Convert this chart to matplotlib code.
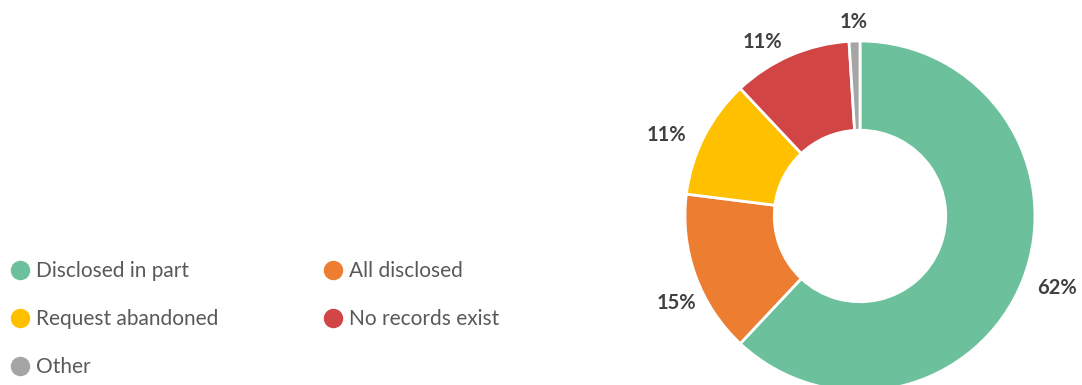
import numpy as np
import matplotlib.pyplot as plt
from matplotlib.lines import Line2D

# Данные
categories = ["Disclosed in part", "All disclosed", "Request abandoned", "No records exist", "Other"]
values = [62, 15, 11, 11, 1]
colors = ["#6cc19c", "#ed7d31", "#ffc000", "#d24545", "#a5a5a5"]

# Положение подписей: расстояние от центра (в радиусах) и сдвиг угла (градусы)
label_dist = [1.2, 1.16, 1.2, 1.14, 1.11]
label_shift = [1.6, 5.6, 4.3, 6, 0]

plt.rcParams['font.family'] = ['Lato', 'DejaVu Sans']

W, H = 1082, 385
fig = plt.figure(figsize=(W / 100, H / 100), dpi=100)

# Ось для кольцевой диаграммы: центр (860, 216) px, радиус 175 px
cx, cy, R, half = 860, 216, 175, 260
ax = fig.add_axes([(cx - half) / W, (H - cy - half) / H, 2 * half / W, 2 * half / H])

wedges, texts = ax.pie(values, colors=colors, startangle=90, counterclock=False,
                       radius=1, labels=[f"{v}%" for v in values], labeldistance=1.2,
                       wedgeprops=dict(width=0.51, edgecolor='white', linewidth=2),
                       textprops=dict(fontsize=14.5, fontweight='bold', color='#404040'))
for w, t, d, s in zip(wedges, texts, label_dist, label_shift):
    ang = np.deg2rad((w.theta1 + w.theta2) / 2 + s)
    t.set_position((d * np.cos(ang), d * np.sin(ang)))
    t.set_ha('center')
    t.set_va('center')
    t.set_clip_on(False)

# pie() сам выставляет пределы, поэтому задаём их после
ax.set_xlim(-half / R, half / R)
ax.set_ylim(-half / R, half / R)
ax.axis('off')

# Легенда
order = [0, 2, 4, 1, 3]
handles = [Line2D([], [], marker='o', linestyle='none', markersize=13,
                  markerfacecolor=colors[i], markeredgecolor=colors[i]) for i in order]
fig.legend(handles, [categories[i] for i in order], ncol=2, frameon=False,
           loc='upper left', bbox_to_anchor=(9 / W, (H - 261) / H),
           fontsize=15, labelcolor='#595959', handletextpad=0.2,
           handlelength=1.1, columnspacing=4.95, labelspacing=1.35,
           borderaxespad=0, borderpad=0)

fig.savefig("out.png", dpi=100)
